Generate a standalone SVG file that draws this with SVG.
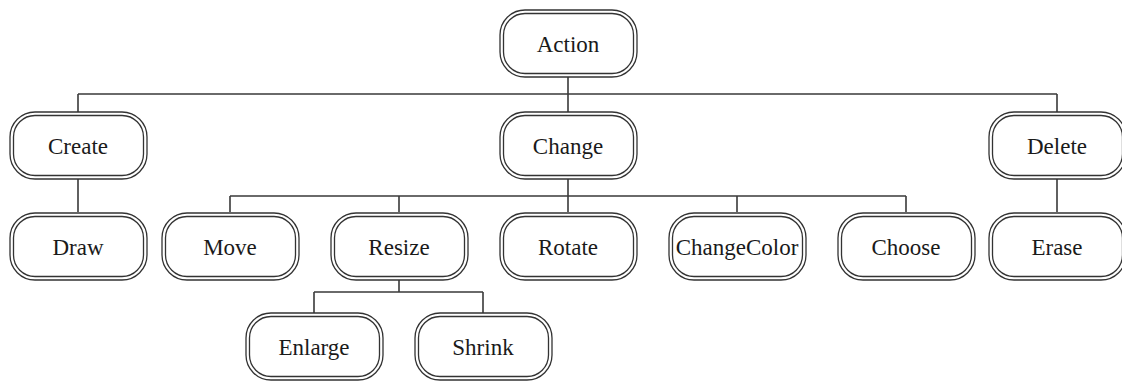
<svg xmlns="http://www.w3.org/2000/svg" width="1122" height="381" viewBox="0 0 1122 381">
  <style>
    .outer { fill: #ffffff; stroke: #333333; stroke-width: 1.3; }
    .inner { fill: none; stroke: #333333; stroke-width: 1.3; }
    .label { font-family: "Liberation Serif", "Times New Roman", serif; font-size: 23px; fill: #1a1a1a; text-anchor: middle; }
    .wire { fill: none; stroke: #3a3a3a; stroke-width: 1.6; }
  </style>
  <defs>
    <!-- double-bordered rounded box, 137 x 67, origin at top-left -->
    <g id="box">
      <rect class="outer" x="0.5" y="0.5" width="137" height="67" rx="25" ry="25"/>
      <rect class="inner" x="4" y="4" width="130" height="60" rx="21.5" ry="21.5"/>
    </g>
  </defs>
  <rect width="1122" height="381" fill="#ffffff"/>

  <g id="connectors">
    <!-- Action to level 1 -->
    <path class="wire" d="M568 77 V94 M78 94 H1057 M78 94 V112 M568 94 V112 M1057 94 V112"/>
    <!-- Create to Draw, Delete to Erase -->
    <path class="wire" d="M78 179 V212 M1057 179 V212"/>
    <!-- Change to its children -->
    <path class="wire" d="M568 179 V196 M230 196 H906 M230 196 V212 M399 196 V212 M568 196 V212 M737 196 V212 M906 196 V212"/>
    <!-- Resize to its children -->
    <path class="wire" d="M399 280 V292 M314 292 H483 M314 292 V313 M483 292 V313"/>
  </g>

  <g id="action"><use href="#box" x="499.5" y="9.5"/><text class="label" x="568" y="52">Action</text></g>

  <g id="create"><use href="#box" x="9.5" y="111.5"/><text class="label" x="78" y="154">Create</text></g>
  <g id="change"><use href="#box" x="499.5" y="111.5"/><text class="label" x="568" y="154">Change</text></g>
  <g id="delete"><use href="#box" x="988.5" y="111.5"/><text class="label" x="1057" y="154">Delete</text></g>

  <g id="draw"><use href="#box" x="9.5" y="212.5"/><text class="label" x="78" y="255">Draw</text></g>
  <g id="move"><use href="#box" x="161.5" y="212.5"/><text class="label" x="230" y="255">Move</text></g>
  <g id="resize"><use href="#box" x="330.5" y="212.5"/><text class="label" x="399" y="255">Resize</text></g>
  <g id="rotate"><use href="#box" x="499.5" y="212.5"/><text class="label" x="568" y="255">Rotate</text></g>
  <g id="changecolor"><use href="#box" x="668.5" y="212.5"/><text class="label" x="737" y="255">ChangeColor</text></g>
  <g id="choose"><use href="#box" x="837.5" y="212.5"/><text class="label" x="906" y="255">Choose</text></g>
  <g id="erase"><use href="#box" x="988.5" y="212.5"/><text class="label" x="1057" y="255">Erase</text></g>

  <g id="enlarge"><use href="#box" x="245.5" y="312.5"/><text class="label" x="314" y="355">Enlarge</text></g>
  <g id="shrink"><use href="#box" x="414.5" y="312.5"/><text class="label" x="483" y="355">Shrink</text></g>
</svg>
